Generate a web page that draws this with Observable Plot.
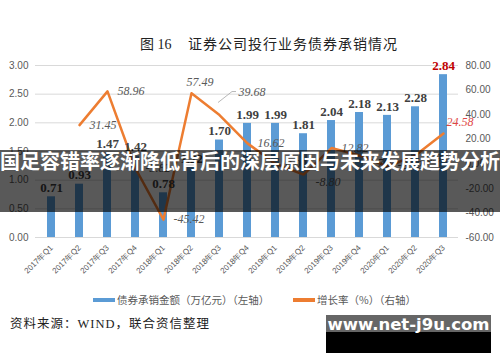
<!DOCTYPE html>
<html><head><meta charset="utf-8">
<script src="https://cdn.jsdelivr.net/npm/d3@7"></script>
<script src="https://cdn.jsdelivr.net/npm/@observablehq/plot@0.6"></script>
<style>
body{margin:0;background:#fff;}
#wrap{position:relative;width:500px;height:362px;overflow:hidden;background:#fff;}
#chart{position:absolute;left:0;top:0;}
.abs{position:absolute;white-space:nowrap;}
.title{top:33px;font:14px "Liberation Serif","Noto Sans CJK SC",serif;color:#222;}
.leg{font:10.5px "Noto Sans CJK SC","Liberation Sans",sans-serif;color:#595959;top:292px;}
.sw{position:absolute;height:4px;top:298px;}
#source{left:10px;top:313px;font:12.5px "Liberation Serif","Noto Sans CJK SC",serif;color:#222;letter-spacing:1px;}
#banner{left:0;top:150px;width:500px;height:62px;background:rgba(0,0,0,0.65);}
#bannerText{left:0;top:150px;width:500px;height:62px;line-height:62px;text-align:center;font:bold 20px "Noto Sans CJK SC",sans-serif;color:#fff;margin-top:-4px;}
#wmTop{left:326px;top:315px;width:165px;height:17px;background:rgba(0,0,0,0.6);}
#wmBot{left:326px;top:332px;width:165px;height:21px;background:#000;}
#wmText{left:326px;top:315px;width:165px;height:38px;line-height:40px;text-align:center;font:bold 16.5px "DejaVu Sans","Liberation Sans",sans-serif;color:#fff;}
</style></head><body>
<div id="wrap">
  <div id="chart"></div>
  <div class="abs title" style="left:140px;letter-spacing:0px">图 16</div>
  <div class="abs title" style="left:188px;letter-spacing:1px">证券公司投行业务债券承销情况</div>
  <div class="sw" style="left:93px;width:22px;background:#5b9bd5"></div>
  <div class="abs leg" style="left:117px">债券承销金额（万亿元）（左轴）</div>
  <div class="sw" style="left:293px;width:22px;background:#ed7d31"></div>
  <div class="abs leg" style="left:317px">增长率（%）（右轴）</div>
  <div id="source" class="abs">资料来源：WIND，联合资信整理</div>
  <div id="banner" class="abs"></div>
  <div id="bannerText" class="abs">国足容错率逐渐降低背后的深层原因与未来发展趋势分析</div>
  <div id="wmTop" class="abs"></div>
  <div id="wmBot" class="abs"></div>
  <div id="wmText" class="abs">www.net-j9u.com</div>
</div>
<script>
const categories = ["2017年Q1","2017年Q2","2017年Q3","2017年Q4","2018年Q1","2018年Q2","2018年Q3","2018年Q4","2019年Q1","2019年Q2","2019年Q3","2019年Q4","2020年Q1","2020年Q2","2020年Q3"];
const amounts = [0.71,0.93,1.47,1.42,0.78,1.22,1.70,1.99,1.99,1.81,2.04,2.18,2.13,2.28,2.84];
const growth = [null,31.45,58.96,-3.82,-45.42,57.49,39.68,16.62,0.00,-8.80,12.82,6.76,-2.22,6.90,24.58];
const leftTicks = [0,0.5,1,1.5,2,2.5,3];
const rightTicks = [-60,-40,-20,0,20,40,60,80];

const R0 = -60, R1 = 80, L1 = 3;
const toLeft = v => (v - R0) / (R1 - R0) * L1;
const fromLeft = d => Math.round(d * (R1 - R0) / L1 + R0);

const rows = categories.map((c, i) => ({cat: c, amt: amounts[i], g: growth[i], gy: growth[i] == null ? null : toLeft(growth[i])}));
const lineRows = rows.filter(d => d.g != null);
const last = categories[categories.length - 1];

// label placement (layout config)
const defOff = {dx: 10, dy: 0};
const offs = {"2018年Q2": {dx: -5, dy: -11}, "2018年Q3": {dx: 19, dy: -23}, "2019年Q2": {dx: 12, dy: 8}, "2019年Q4": {dx: 9, dy: 8}, "2020年Q1": {dx: 10, dy: -1}, "2020年Q2": {dx: 11, dy: 3}, "2020年Q3": {dx: 3, dy: -11}};

const growthLabels = lineRows.map(d => {
  const o = offs[d.cat] || defOff;
  return Plot.text([d], {x: "cat", y: "gy", text: r => r.g.toFixed(2), dx: o.dx, dy: o.dy, textAnchor: "start",
    fontStyle: "italic", fontSize: 12, fontFamily: "Liberation Serif, serif", fill: d.cat === last ? "#e04545" : "#595959"});
});

const leaderCat = "2018年Q3";
const leader = Plot.dot(rows.filter(d => d.cat === leaderCat), {x: "cat", y: "gy", r: 0,
  render: (index, scales, values, dims) => {
    const sx = scales.x;
    const bw = typeof sx.bandwidth === "function" ? sx.bandwidth() : 0;
    const d = rows.find(r => r.cat === leaderCat);
    const x = sx(d.cat) + bw / 2, y = scales.y(d.gy);
    const p = d3.create("svg:path")
      .attr("d", `M${x - 1},${y - 12}L${x + 13},${y - 23}L${x + 17},${y - 23}`)
      .attr("fill", "none").attr("stroke", "#a6a6a6").attr("stroke-width", 0.8);
    return p.node();
  }});

const chart = Plot.plot({
  width: 500, height: 300,
  marginTop: 65, marginBottom: 63, marginLeft: 35, marginRight: 42,
  style: {fontFamily: "Liberation Sans, Arial, sans-serif", fontSize: "10px", color: "#595959", background: "transparent"},
  x: {domain: categories, paddingInner: 0.72, paddingOuter: 0.36, label: null},
  y: {domain: [0, 3], label: null},
  marks: [
    Plot.gridY(leftTicks, {stroke: "#d9d9d9", strokeOpacity: 1}),
    Plot.ruleY([0], {stroke: "#d9d9d9"}),
    Plot.barY(rows, {x: "cat", y: "amt", fill: "#5b9bd5"}),
    Plot.line(lineRows, {x: "cat", y: "gy", stroke: "#ed7d31", strokeWidth: 2.5}),
    leader,
    Plot.axisY(leftTicks, {anchor: "left", tickSize: 0, tickPadding: 7, tickFormat: d => d.toFixed(2), label: null}),
    Plot.axisY(rightTicks.map(toLeft), {anchor: "right", tickSize: 0, tickPadding: 7, tickFormat: d => fromLeft(d).toFixed(2), label: null}),
    Plot.axisX({tickRotate: -45, tickSize: 0, tickPadding: 9, fontSize: 8, label: null}),
    Plot.text(rows, {x: "cat", y: "amt", text: d => d.amt.toFixed(2), dy: -9, fontWeight: "bold", fontSize: 13,
      fontFamily: "Liberation Serif, serif", fill: d => d.cat === last ? "#c00000" : "#404040"}),
    ...growthLabels
  ]
});
document.getElementById("chart").appendChild(chart);
</script>
</body></html>
